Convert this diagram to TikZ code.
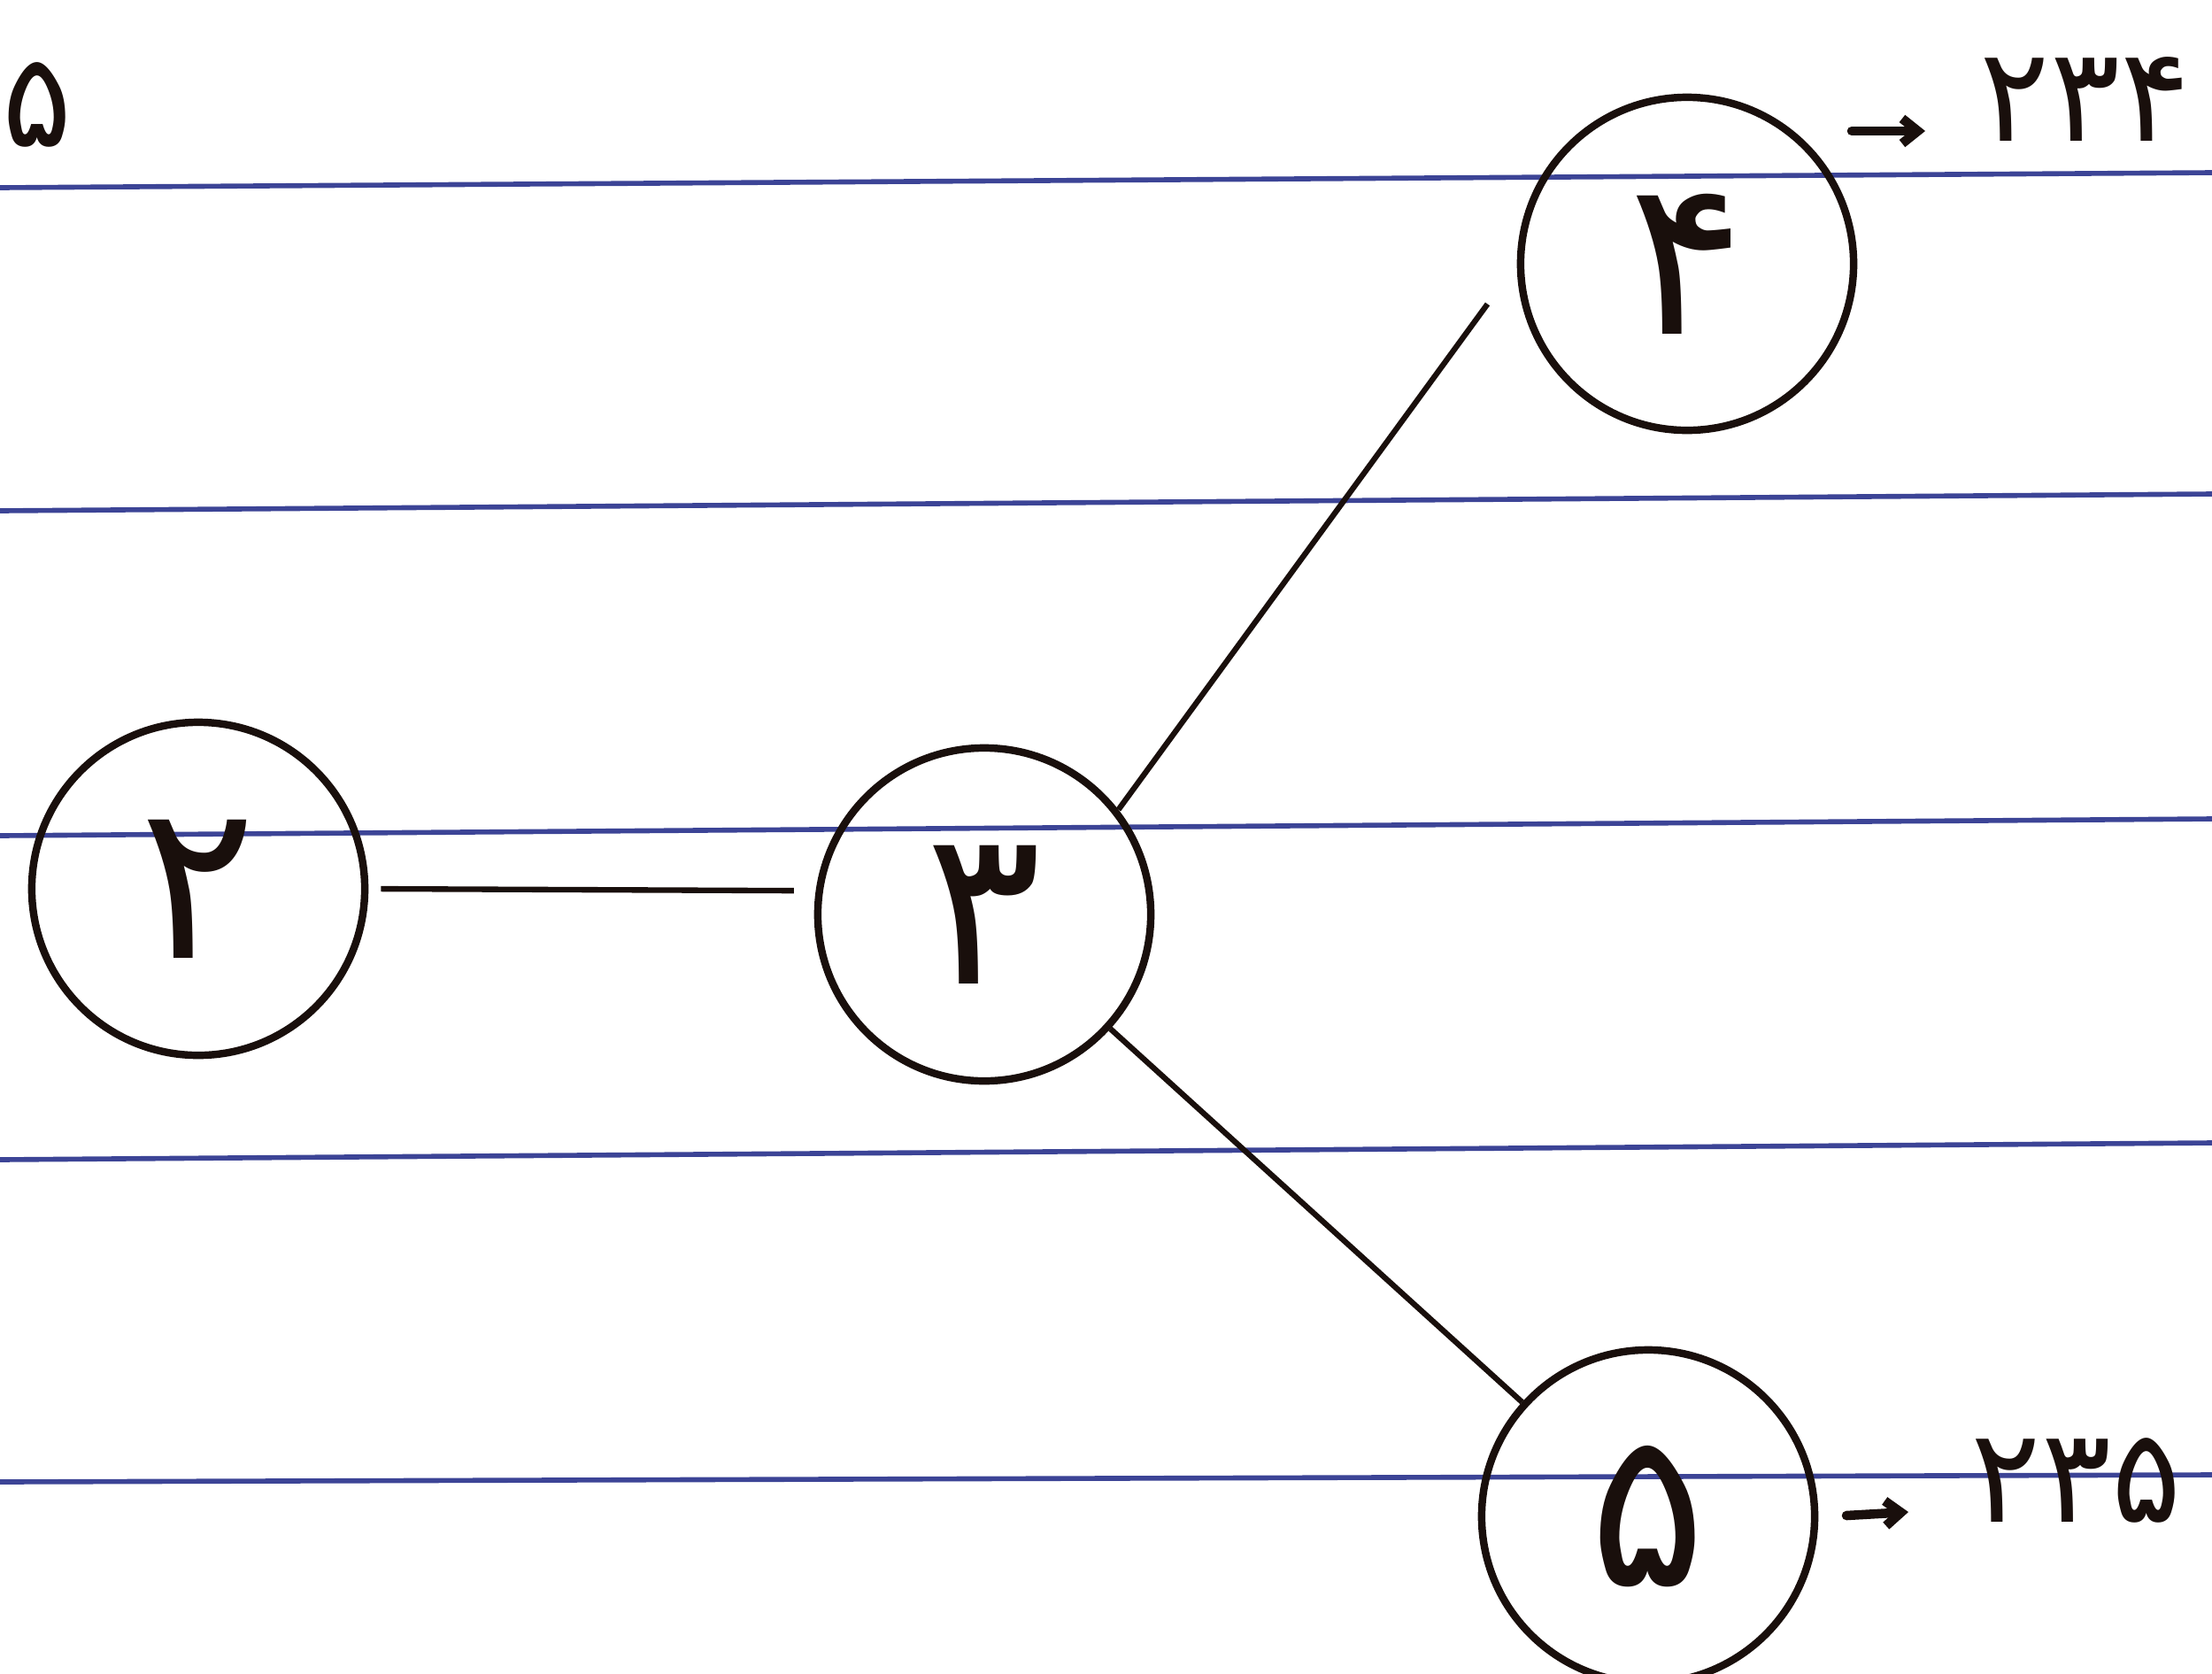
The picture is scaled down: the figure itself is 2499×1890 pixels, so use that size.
\documentclass[tikz,border=0pt]{standalone}
\usepackage{fontspec}
\newfontfamily\fafont{DejaVu Sans}
\usetikzlibrary{arrows.meta}
\definecolor{ruleblue}{RGB}{60,68,150}
\definecolor{ink}{RGB}{25,15,12}
\tikzset{
  rule/.style={ruleblue, line width=1.6pt},
  vert/.style={circle, draw=ink, line width=2.4pt, minimum size=3.76cm, inner sep=0pt, font=\fafont\fontsize{70}{70}\selectfont, text=ink},
  edge/.style={ink, line width=1.8pt},
  lab/.style={font=\fafont\fontsize{42}{42}\selectfont, text=ink, inner sep=0pt, anchor=west},
  pointer/.style={ink, line width=3pt, line cap=round, -{Straight Barb[length=5pt,width=8pt,line width=3pt]}},
}
\begin{document}
\begin{tikzpicture}[x=0.01cm,y=-0.01cm]
\useasboundingbox (0,0) rectangle (2499,1890);
\clip (0,0) rectangle (2499,1890);
\fill[white] (0,0) rectangle (2499,1890);
% ruled lines
\draw[rule] (0,212) -- (2499,195);
\draw[rule] (0,577) -- (2499,558);
\draw[rule] (0,944) -- (2499,925);
\draw[rule] (0,1310) -- (2499,1291);
\draw[rule] (0,1674) -- (2499,1666);
% partial digit at top-left
\node[lab] (cut) at (2,118) {۵};
% vertices
\node[vert] (n2) at (224,1004) {۲};
\node[vert] (n3) at (1112,1033) {۳};
\node[vert] (n4) at (1906,298) {۴};
\node[vert] (n5) at (1862,1713) {۵};
% edges
\draw[edge, shorten <=4pt, shorten >=7pt] (n2.east) -- (n3.172);
\draw[edge, shorten >=16pt] (n3.38) -- (n4.west);
\draw[edge] (n3) -- (n5);
% path labels
\node[lab] (l4) at (2236,112) {۲۳۴};
\coordinate (p4a) at (2092,148);
\coordinate (p4b) at (2175,148);
\draw[pointer] (p4a) -- (p4b);
\node[lab] (l5) at (2226,1672) {۲۳۵};
\coordinate (p5a) at (2086,1712);
\coordinate (p5b) at (2156,1708);
\draw[pointer] (p5a) -- (p5b);
\end{tikzpicture}
\end{document}
